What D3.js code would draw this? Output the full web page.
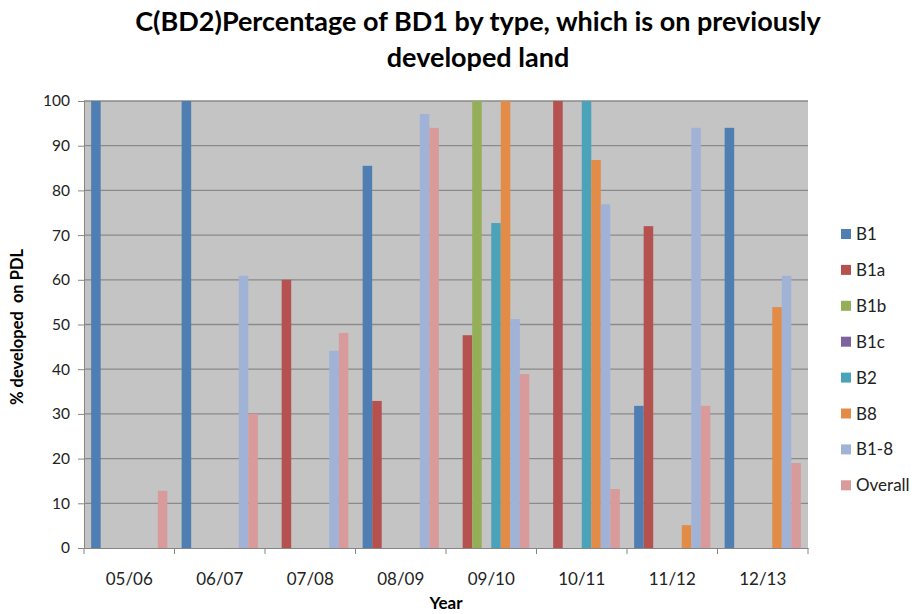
<!DOCTYPE html>
<html>
<head>
<meta charset="utf-8">
<script src="https://cdn.jsdelivr.net/npm/d3@7"></script>
<style>
  body { margin: 0; background: #fff; }
  text { font-family: Lato, "Open Sans", sans-serif; fill: #000; }
</style>
</head>
<body>
<svg width="917" height="614"></svg>
<script>
// data
let years = ["05/06", "06/07", "07/08", "08/09", "09/10", "10/11", "11/12", "12/13"];
let series = ["B1", "B1a", "B1b", "B1c", "B2", "B8", "B1-8", "Overall"];
let colors = ["#4f7eb2", "#b5514f", "#95ae58", "#7d62a0", "#4ba3b9", "#e28c48", "#a0b3d6", "#d89a9a"];

// one array per series, one value per year (null = no bar)
let B1      = [100, 100, null, 85.5, null, null, 31.8, 94];
let B1a     = [null, null, 60, 32.9, 47.6, 100, 72, null];
let B1b     = [null, null, null, null, 100, null, null, null];
let B1c     = [null, null, null, null, null, null, null, null];
let B2      = [null, null, null, null, 72.7, 100, null, null];
let B8      = [null, null, null, null, 100, 86.8, 5.1, 53.9];
let B1_8    = [null, 60.9, 44.1, 97.1, 51.2, 76.9, 94, 60.9];
let Overall = [12.8, 30, 48.1, 94, 38.9, 13.2, 31.8, 19];
let values = [B1, B1a, B1b, B1c, B2, B8, B1_8, Overall];

let yTicks = [0, 10, 20, 30, 40, 50, 60, 70, 80, 90, 100];

let svg = d3.select("svg");

let plotL = 84, plotR = 808, plotT = 101, plotB = 548;

let x = d3.scaleBand().domain(years).range([plotL, plotR]);
let inner = d3.scaleBand().domain(series).range([0, x.bandwidth()])
              .paddingInner(0).paddingOuter(0.75);
let y = d3.scaleLinear().domain([0, 100]).range([plotB, plotT]);

// plot area
svg.append("rect")
  .attr("x", plotL).attr("y", plotT)
  .attr("width", plotR - plotL).attr("height", plotB - plotT)
  .attr("fill", "#c4c4c4");

// gridlines
svg.append("g")
  .selectAll("line")
  .data(yTicks.filter(d => d > 0))
  .enter().append("line")
  .attr("x1", plotL).attr("x2", plotR)
  .attr("y1", d => y(d)).attr("y2", d => y(d))
  .style("stroke", "#8a8a8a")
  .style("stroke-width", 1.3);

// bars
let bars = [];
values.forEach((vals, si) => {
  vals.forEach((v, yi) => {
    if (v != null) bars.push({ year: years[yi], s: series[si], v: v, c: colors[si] });
  });
});

svg.append("g")
  .selectAll("rect")
  .data(bars)
  .enter().append("rect")
  .attr("x", d => x(d.year) + inner(d.s))
  .attr("width", inner.bandwidth())
  .attr("y", d => y(d.v))
  .attr("height", d => y(0) - y(d.v))
  .attr("fill", d => d.c);

// y axis
let yAxis = svg.append("g")
  .attr("transform", `translate(${plotL},0)`)
  .call(d3.axisLeft(y).tickValues(yTicks).tickSize(6).tickPadding(8));
yAxis.selectAll("text").style("font-size", "15.5px").style("font-family", "Lato").style("fill", "#222");
yAxis.selectAll("line, path").style("stroke", "#868686");

// x axis
let xAxis = svg.append("g")
  .attr("transform", `translate(0,${plotB})`)
  .call(d3.axisBottom(x).tickSize(0).tickPadding(25));
xAxis.selectAll("text").style("font-size", "17px").style("font-family", "Lato").style("fill", "#222");
xAxis.select("path").style("stroke", "#868686");
xAxis.selectAll(".sep")
  .data(d3.range(years.length + 1))
  .enter().append("line")
  .attr("class", "sep")
  .attr("x1", i => plotL + i * x.step()).attr("x2", i => plotL + i * x.step())
  .attr("y1", 0).attr("y2", 6)
  .style("stroke", "#868686");

// titles
let title = svg.append("text")
  .attr("text-anchor", "middle")
  .style("font-size", "27px")
  .style("font-weight", "bold");
title.append("tspan").attr("x", 478).attr("y", 31)
  .text("C(BD2)Percentage of BD1 by type, which is on previously");
title.append("tspan").attr("x", 478).attr("y", 67)
  .text("developed land");

svg.append("text")
  .attr("x", 446).attr("y", 609)
  .attr("text-anchor", "middle")
  .style("font-size", "17px").style("font-weight", "bold")
  .text("Year");

svg.append("text")
  .attr("transform", "translate(23,327) rotate(-90)")
  .attr("text-anchor", "middle")
  .style("font-size", "16.5px").style("font-weight", "bold")
  .style("white-space", "pre")
  .text("% developed  on PDL");

// legend
let legend = svg.append("g")
  .selectAll("g")
  .data(series)
  .enter().append("g")
  .attr("transform", (d, i) => `translate(841,${234 + i * 35.9})`);

legend.append("rect")
  .attr("x", 0).attr("y", -5)
  .attr("width", 10).attr("height", 10)
  .attr("fill", (d, i) => colors[i]);

legend.append("text")
  .attr("x", 15).attr("y", 6)
  .style("font-size", "17px")
  .style("fill", "#222")
  .text(d => d);
</script>
</body>
</html>
